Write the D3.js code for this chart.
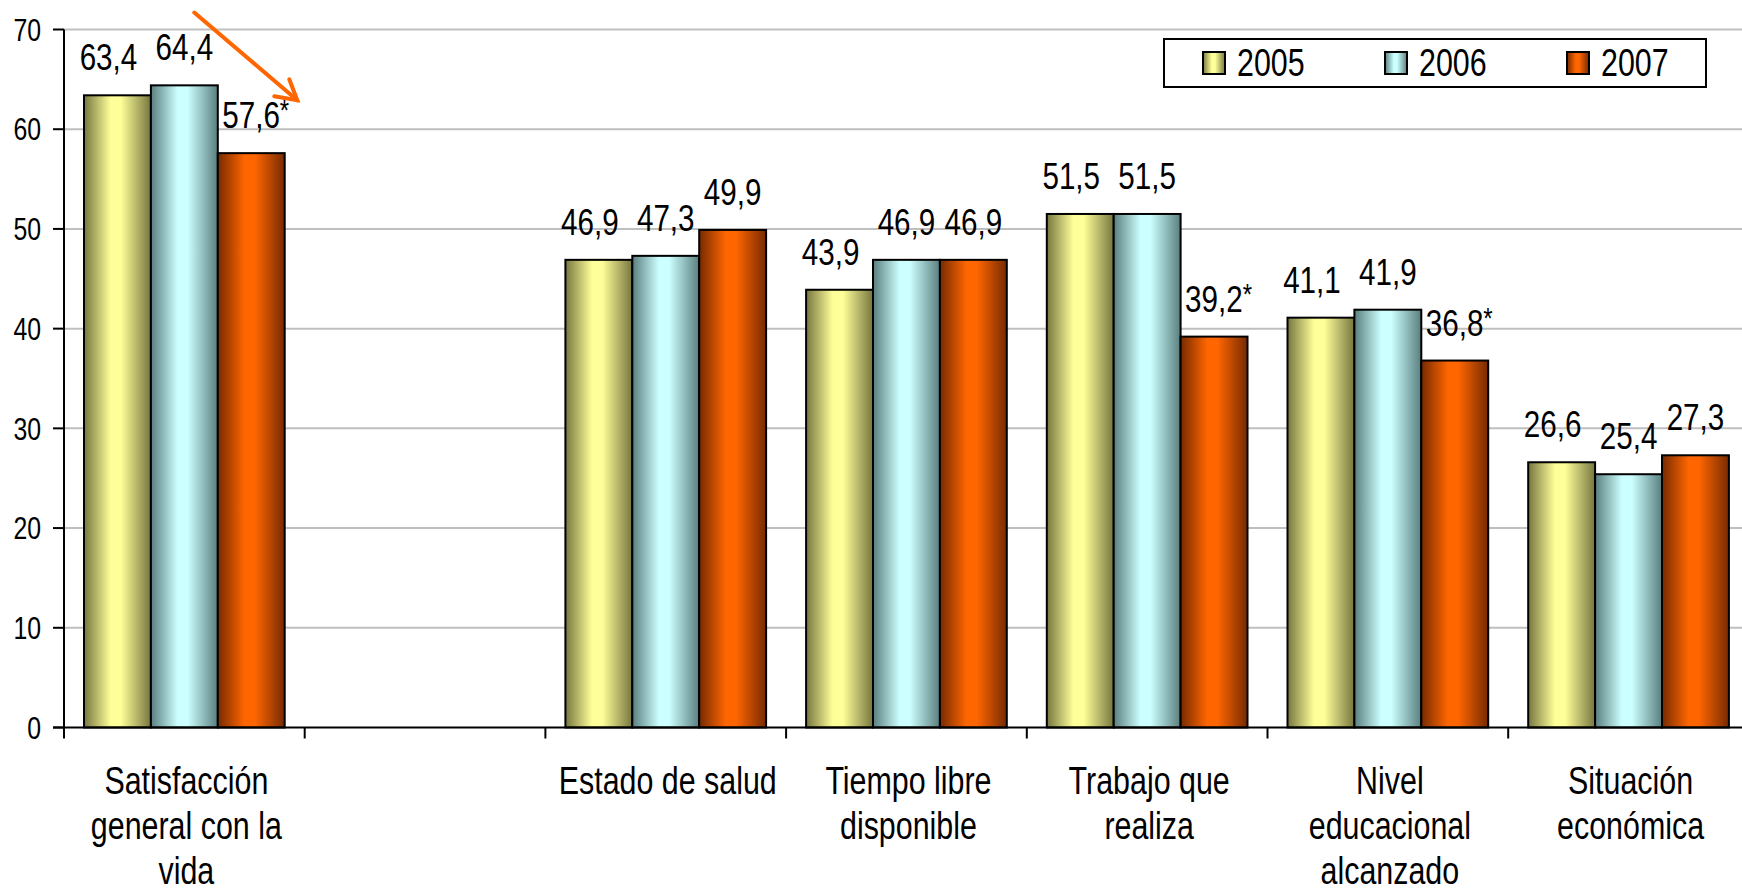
<!DOCTYPE html>
<html>
<head>
<meta charset="utf-8">
<script src="https://cdn.jsdelivr.net/npm/d3@7/dist/d3.min.js"></script>
<style>
  html, body { margin: 0; padding: 0; background: #fff; }
  svg { display: block; }
  text { font-family: "Liberation Sans", Arial, sans-serif; fill: #000; }
</style>
</head>
<body>
<svg id="chart" width="1742" height="892"></svg>
<script>
// categories (the second slot is empty in the original)
const categories = [
  ["Satisfacción", "general con la", "vida"],
  [],
  ["Estado de salud"],
  ["Tiempo libre", "disponible"],
  ["Trabajo que", "realiza"],
  ["Nivel", "educacional", "alcanzado"],
  ["Situación", "económica"]
];
const years = ["2005", "2006", "2007"];
const values2005 = [63.4, null, 46.9, 43.9, 51.5, 41.1, 26.6];
const values2006 = [64.4, null, 47.3, 46.9, 51.5, 41.9, 25.4];
const values2007 = [57.6, null, 49.9, 46.9, 39.2, 36.8, 27.3];
// significant change marks (*) on 2007
const marked2007 = [true, false, false, false, true, true, false];
const yTicks = [0, 10, 20, 30, 40, 50, 60, 70];

const series = [values2005, values2006, values2007];
const colors = [
  { dark: "#76763f", light: "#ffff99" },
  { dark: "#5a7e7e", light: "#ccffff" },
  { dark: "#762a00", light: "#ff6600" }
];

const svg = d3.select("#chart");
const W = 1742;
const mLeft = 64, mTop = 29.5, mBottom = 727.5;
const groupW = 240.7;
const narrow = 0.8; // horizontal squeeze, the original uses a narrow face
const labelShift = [-9, 0, 0]; // 2005 labels sit a bit to the left in the original

const x0 = d3.scaleBand()
  .domain(d3.range(categories.length))
  .range([mLeft, mLeft + groupW * categories.length])
  .padding(0);
const x1 = d3.scaleBand()
  .domain(years)
  .range([20, groupW - 20])
  .padding(0);
const y = d3.scaleLinear().domain([0, 70]).range([mBottom, mTop]);

function place(sel, fx, fy) {
  return sel.attr("transform", d => `translate(${fx(d)},${fy(d)}) scale(${narrow},1)`);
}

// gradients
const defs = svg.append("defs");
colors.forEach((c, i) => {
  const g = defs.append("linearGradient")
    .attr("id", "grad" + i)
    .attr("x1", "0%").attr("x2", "100%").attr("y1", "0%").attr("y2", "0%");
  g.append("stop").attr("offset", "0%").attr("stop-color", c.dark);
  g.append("stop").attr("offset", "40%").attr("stop-color", c.light);
  g.append("stop").attr("offset", "55%").attr("stop-color", c.light);
  g.append("stop").attr("offset", "100%").attr("stop-color", c.dark);
});

// gridlines
svg.append("g")
  .selectAll("line")
  .data(yTicks.filter(d => d > 0))
  .join("line")
  .attr("x1", mLeft).attr("x2", W)
  .attr("y1", d => y(d)).attr("y2", d => y(d))
  .attr("stroke", "#bfbfbf")
  .attr("stroke-width", 2);

// bars
const groups = svg.append("g")
  .selectAll("g")
  .data(categories.map((c, i) => i))
  .join("g")
  .attr("transform", i => `translate(${x0(i)},0)`);

groups.selectAll("rect")
  .data(i => series.map((s, k) => ({ k, v: s[i] })).filter(d => d.v != null))
  .join("rect")
  .attr("x", d => x1(years[d.k]))
  .attr("width", x1.bandwidth())
  .attr("y", d => y(d.v))
  .attr("height", d => y(0) - y(d.v))
  .attr("fill", d => `url(#grad${d.k})`)
  .attr("stroke", "#000")
  .attr("stroke-width", 2);

// value labels
const fmt = v => v.toFixed(1).replace(".", ",");
const lbl = groups.selectAll("text.val")
  .data(i => series.map((s, k) => ({ k, v: s[i], star: k === 2 && marked2007[i] })).filter(d => d.v != null))
  .join("text")
  .attr("class", "val")
  .style("font-size", "37px");
place(lbl, d => x1(years[d.k]) + x1.bandwidth() / 2 + labelShift[d.k] - (d.star ? 29 : 0), d => y(d.v) - 25)
  .attr("text-anchor", d => d.star ? "start" : "middle");
lbl.append("tspan").text(d => fmt(d.v));
lbl.filter(d => d.star)
  .append("tspan")
  .attr("dy", -8)
  .style("font-size", "30px")
  .text("*");

// axes
const axisG = svg.append("g");
axisG.append("line")
  .attr("x1", mLeft).attr("x2", mLeft)
  .attr("y1", y(70)).attr("y2", y(0))
  .attr("stroke", "#000").attr("stroke-width", 2);
axisG.append("line")
  .attr("x1", mLeft - 11).attr("x2", W)
  .attr("y1", y(0)).attr("y2", y(0))
  .attr("stroke", "#000").attr("stroke-width", 2);
axisG.selectAll("line.ytick")
  .data(yTicks)
  .join("line")
  .attr("class", "ytick")
  .attr("x1", mLeft - 11).attr("x2", mLeft)
  .attr("y1", d => y(d)).attr("y2", d => y(d))
  .attr("stroke", "#000").attr("stroke-width", 2);
const yl = axisG.selectAll("text.ylab")
  .data(yTicks)
  .join("text")
  .attr("class", "ylab")
  .attr("dy", "0.36em")
  .attr("text-anchor", "end")
  .style("font-size", "31px")
  .text(d => d);
place(yl, () => mLeft - 23, d => y(d));
axisG.selectAll("line.xtick")
  .data(d3.range(categories.length))
  .join("line")
  .attr("class", "xtick")
  .attr("x1", i => x0(i)).attr("x2", i => x0(i))
  .attr("y1", y(0)).attr("y2", y(0) + 11)
  .attr("stroke", "#000").attr("stroke-width", 2);

// category labels
const xl = svg.append("g")
  .selectAll("text")
  .data(categories.map((lines, i) => ({ lines, i })))
  .join("text")
  .attr("text-anchor", "middle")
  .style("font-size", "38px");
place(xl, d => x0(d.i) + x0.bandwidth() / 2 + 2, () => 794);
xl.selectAll("tspan")
  .data(d => d.lines)
  .join("tspan")
  .attr("x", 0)
  .attr("dy", (d, j) => j === 0 ? 0 : 45)
  .text(d => d);

// legend
const lg = svg.append("g").attr("transform", "translate(1164,39)");
lg.append("rect")
  .attr("width", 542).attr("height", 48)
  .attr("fill", "#fff").attr("stroke", "#000").attr("stroke-width", 2);
const items = lg.selectAll("g")
  .data(years)
  .join("g")
  .attr("transform", (d, i) => `translate(${39 + i * 182},13)`);
items.append("rect")
  .attr("width", 22).attr("height", 22)
  .attr("fill", (d, i) => `url(#grad${i})`)
  .attr("stroke", "#000").attr("stroke-width", 2);
items.append("text")
  .attr("transform", `translate(34,24) scale(${narrow},1)`)
  .style("font-size", "38px")
  .text(d => d);

// annotation arrow towards the 2007 drop
const ax = x0(0) + x1("2007") + x1.bandwidth() / 2;
const tip = [ax + 46, y(62.9)];
const start = [ax - 57, y(71.7)];
const arrow = svg.append("g")
  .attr("stroke", "#ff6600").attr("stroke-width", 4)
  .attr("fill", "none").attr("stroke-linecap", "round");
arrow.append("line")
  .attr("x1", start[0]).attr("y1", start[1])
  .attr("x2", tip[0]).attr("y2", tip[1]);
arrow.append("polyline")
  .attr("points", [[tip[0] - 23, tip[1] - 4], tip, [tip[0] - 8, tip[1] - 21]].map(p => p.join(",")).join(" "));
</script>
</body>
</html>
